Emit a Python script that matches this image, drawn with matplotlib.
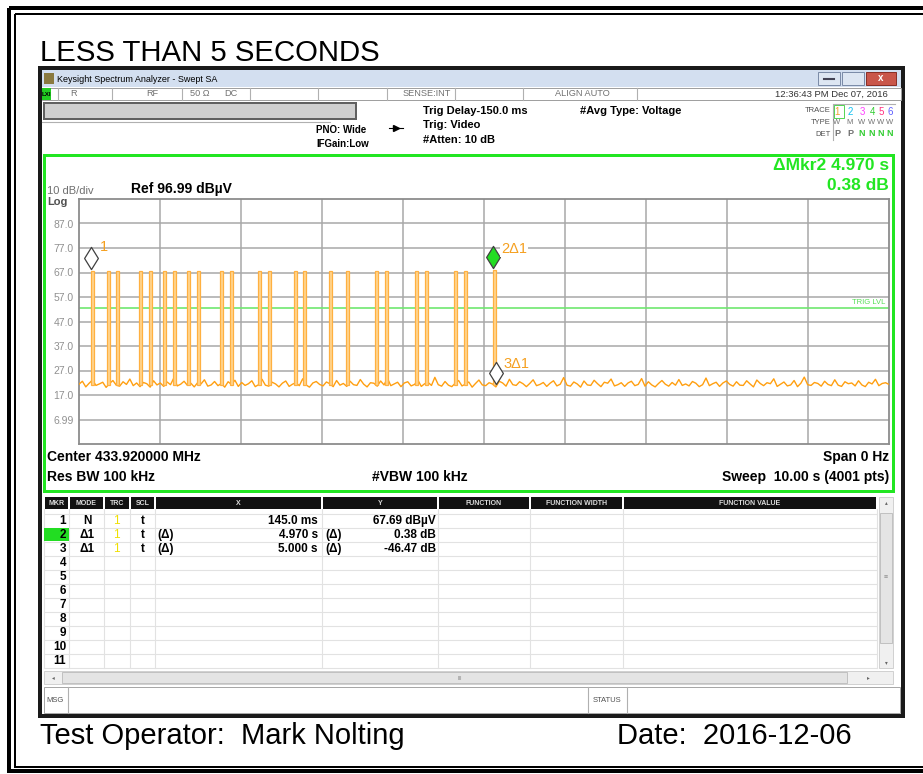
import numpy as np
import matplotlib
matplotlib.use("Agg")
import matplotlib.pyplot as plt
from matplotlib.patches import Rectangle
from matplotlib.path import Path

plt.rcParams['font.family'] = ['Liberation Sans', 'DejaVu Sans']

# ---- data ----
ref_level = 96.99
db_per_div = 10
sweep_time = 10.0
trig_level = 52.3

# pulse start times (s) and tops (dBuV)
pulse_t = [0.145, 0.346, 0.457, 0.741, 0.864, 1.037, 1.160, 1.333, 1.457, 1.741,
           1.864, 2.210, 2.333, 2.654, 2.765, 3.086, 3.296, 3.654, 3.778, 4.148,
           4.272, 4.630, 4.753, 5.115]
pulse_top = [67.69] * 23 + [68.07]
pulse_base = 21.0

# noise floor trace (dBuV), sampled across the sweep
noise = [21.4, 22.6, 20.3, 21.8, 23.1, 20.9, 21.5, 22.2, 20.1, 21.7, 22.9, 21.0,
         20.6, 22.4, 21.3, 23.5, 20.8, 21.9, 20.4, 22.1, 21.6, 20.2, 22.8, 21.1,
         21.9, 20.5, 22.3, 21.2, 24.0, 20.7, 21.4, 22.6, 20.9, 21.8, 20.3, 22.0,
         21.5, 23.2, 20.6, 21.1, 22.5, 20.8, 21.7, 20.2, 22.4, 21.3, 23.0, 20.5,
         22.1, 20.9, 21.6, 22.8, 20.4, 21.2, 23.4, 21.0, 20.6, 22.2, 21.5, 20.3,
         21.8, 22.7, 20.5, 21.4, 22.0, 20.8, 23.6, 21.1, 20.2, 21.9, 22.5, 21.3,
         20.7, 22.3, 21.6, 20.4, 22.9, 21.0, 21.7, 20.5, 22.6, 21.2, 20.9, 23.3,
         21.4, 20.3, 22.0, 21.8, 20.6, 22.7, 21.1, 23.8, 20.8, 21.5, 22.2, 20.4,
         21.9, 22.4, 20.7, 21.3, 23.0, 20.5, 21.6, 22.1, 20.9, 24.2, 21.2, 20.6,
         22.5, 21.0, 20.4, 21.8, 22.9, 20.7, 21.4, 22.3, 20.2, 21.7, 23.1, 21.1,
         20.8, 22.0, 21.5, 20.3, 22.6, 21.9, 20.6, 23.4, 21.2, 20.9, 22.4, 21.6,
         20.4, 21.7, 23.2, 20.8, 21.3, 22.1, 20.5, 21.8, 22.8, 20.7, 21.4, 24.1,
         21.0, 20.6, 22.3, 21.5, 20.2, 22.7, 21.1, 20.9, 23.0, 21.6, 20.4, 22.2,
         21.8, 23.5, 20.7, 21.2, 22.0, 20.5, 21.9, 22.6, 20.8, 21.3, 23.7, 20.6,
         22.4, 21.1, 20.3, 21.7, 22.9, 21.4, 20.6, 22.1, 21.0, 23.3, 20.9, 21.5,
         20.7, 22.5, 21.8, 20.4, 21.2, 23.9, 20.8, 21.6, 22.2, 20.5, 21.9, 22.7,
         21.3, 20.6, 22.4, 21.0, 20.9, 22.8, 21.5, 20.3, 23.1, 21.7, 20.8, 22.0,
         21.6, 23.6, 20.5, 21.4, 22.3, 20.7, 21.1, 22.9, 20.4, 21.8, 24.3, 21.2,
         20.9, 22.1, 21.7, 20.6, 22.6, 21.3, 20.8, 23.2, 21.0, 20.5, 22.4, 21.6,
         21.9, 20.7, 22.8, 21.1, 20.4, 22.2, 21.5, 23.4, 20.8, 21.7, 22.0, 21.3]

# markers: (time s, y of diamond centre, label)
mkr_t = [0.145, 5.115, 5.145]
mkr_y = [72.9, 73.2, 26.0]
mkr_label = ["1", "2\u03941", "3\u03941"]

# marker table
tbl_cols = ["MKR", "MODE", "TRC", "SCL", "X", "Y", "FUNCTION", "FUNCTION WIDTH", "FUNCTION VALUE"]
tbl_mode = ["N", "\u03941", "\u03941"]
tbl_x = ["145.0 ms", "4.970 s", "5.000 s"]
tbl_y = ["67.69 dB\u00b5V", "0.38 dB", "-46.47 dB"]

W, H = 923, 774
fig = plt.figure(figsize=(W / 100, H / 100), dpi=100)
fig.patch.set_facecolor("white")

# overlay axes in pixel coords
bg = fig.add_axes([0, 0, 1, 1])
bg.set_xlim(0, W)
bg.set_ylim(H, 0)
bg.axis("off")

PT = 0.72  # px -> pt


def rect(x0, y0, x1, y1, fc="none", ec="none", lw=1, z=1):
    bg.add_patch(Rectangle((x0, y0), x1 - x0, y1 - y0, facecolor=fc, edgecolor=ec,
                           linewidth=lw * PT, zorder=z))


def txt(x, y, s, size=8, color="black", weight="normal", ha="left", va="center", z=5, **kw):
    bg.text(x, y, s, fontsize=size, color=color, fontweight=weight, ha=ha, va=va, zorder=z, **kw)


# page border
rect(9, 8, 940, 771, ec="black", lw=4)
rect(15, 14, 940, 767, ec="black", lw=2)

txt(40, 61, "LESS THAN 5 SECONDS", size=21.2, va="baseline")
txt(40, 744, "Test Operator:  Mark Nolting", size=21, va="baseline")
txt(617, 744, "Date:  2016-12-06", size=21, va="baseline")

# window frame
rect(40, 68, 903, 716, fc="white", ec="#1a1a1a", lw=4, z=1)
# title bar
rect(42, 70, 901, 87, fc="#d3dff0", z=2)
rect(44, 73, 54, 84, fc="#8a7a40", z=3)
txt(57, 79, "Keysight Spectrum Analyzer - Swept SA", size=6.5)
rect(818, 72, 840, 85, fc="#dde6f2", ec="#7c8ca8", lw=1, z=3)
rect(842, 72, 864, 85, fc="#dde6f2", ec="#7c8ca8", lw=1, z=3)
rect(866, 72, 896, 85, fc="#c9564a", ec="#8a3028", lw=1, z=3)
bg.plot([824, 834], [79, 79], color="#445", lw=1.5, zorder=4)
txt(881, 78, "x", size=7, color="white", weight="bold", ha="center")

# status row
rect(42, 88, 901, 100, fc="white", ec="#a0a0a0", lw=1, z=2)
rect(42, 88, 51, 100, fc="#22cc22", z=3)
txt(46, 94, "LXI", size=4.5, weight="bold", ha="center")
for xd in [58, 112, 182, 250, 318, 387, 455, 523, 637]:
    bg.plot([xd, xd], [88, 100], color="#b0b0b0", lw=0.8, zorder=3)
for x, s in [(70, "R"), (146, "RF"), (190, "50 \u03a9"), (224, "DC"), (403, "SENSE:INT"),
             (555, "ALIGN AUTO")]:
    txt(x, 94, s, size=6.6, color="#707070")
txt(888, 94, "12:36:43 PM Dec 07, 2016", size=6.8, color="#333", ha="right")

# info area
rect(44, 103, 356, 119, fc="#cfcfcf", ec="#606060", lw=2, z=3)
bg.plot([42, 330], [122, 122], color="#b0b0b0", lw=0.8, zorder=3)
txt(316, 130, "PNO: Wide", size=7, weight="bold")
txt(316, 144, "IFGain:Low", size=7, weight="bold")
bg.plot([389, 403], [128, 128], color="black", lw=0.8, zorder=3)
bg.plot([396], [128], marker=">", color="black", ms=4, zorder=4)
txt(423, 111, "Trig Delay-150.0 ms", size=8, weight="bold")
txt(423, 125, "Trig: Video", size=8, weight="bold")
txt(423, 140, "#Atten: 10 dB", size=8, weight="bold")
txt(580, 111, "#Avg Type: Voltage", size=8, weight="bold")
txt(831, 111, "TRACE", size=5.5, color="#505050", ha="right")
txt(831, 123, "TYPE", size=5.5, color="#505050", ha="right")
txt(831, 134, "DET", size=5.5, color="#505050", ha="right")
bg.plot([833, 833], [105, 140], color="#b0b0b0", lw=0.8, zorder=3)
bg.plot([833, 895], [104, 104], color="#b0b0b0", lw=0.8, zorder=3)
trace_cols = ["#f0a030", "#10c0f0", "#ff40ff", "#30cc30", "#ff3080", "#6060ff"]
trace_x = [837, 850, 862, 872, 881, 890]
det = ["P", "P", "N", "N", "N", "N"]
for i in range(6):
    txt(trace_x[i], 112, str(i + 1), size=7, color=trace_cols[i], ha="center")
    txt(trace_x[i], 123, "W" if i != 1 else "M", size=5.5, color="#707070", ha="center")
    txt(trace_x[i], 134, det[i], size=6.5, weight="bold",
        color="#707070" if det[i] == "P" else "#30cc30", ha="center")
rect(834, 105, 844, 118, ec="#30cc30", lw=0.8, z=4)

# green display panel
rect(44, 155, 893, 491, fc="white", ec="#22e622", lw=3, z=2)
txt(47, 191, "10 dB/div", size=8, color="#707070")
txt(47, 202, "Log", size=8, color="#505050", weight="bold")
txt(131, 189, "Ref 96.99 dB\u00b5V", size=10, weight="bold")
txt(889, 165, "\u0394Mkr2 4.970 s", size=12.5, weight="bold", color="#22e622", ha="right")
txt(889, 185, "0.38 dB", size=12.5, weight="bold", color="#22e622", ha="right")
txt(47, 457, "Center 433.920000 MHz", size=10, weight="bold")
txt(47, 477, "Res BW 100 kHz", size=10, weight="bold")
txt(372, 477, "#VBW 100 kHz", size=10, weight="bold")
txt(889, 457, "Span 0 Hz", size=10, weight="bold", ha="right")
txt(889, 477, "Sweep  10.00 s (4001 pts)", size=10, weight="bold", ha="right")

# ---- trace plot ----
ax = fig.add_axes([79 / W, 1 - 444 / H, 810 / W, 245 / H])
ax.set_zorder(3)
ymin = ref_level - 10 * db_per_div
ax.set_xlim(0, sweep_time)
ax.set_ylim(ymin, ref_level)
yt = [ymin + db_per_div * k for k in range(1, 10)]
ax.set_yticks(yt)
ax.set_yticklabels(["6.99"] + ["%.1f" % v for v in yt[1:]])
ax.set_xticks(np.arange(1, 10))
ax.set_xticklabels([])
ax.tick_params(length=0, labelsize=7.5, labelcolor="#909090", pad=4)
ax.grid(True, color="#a8a8a8", lw=1.1)
for sp in ax.spines.values():
    sp.set_color("#8c8c8c")
    sp.set_linewidth(1.3)

tn = np.linspace(0, sweep_time, len(noise))
ax.plot(tn, noise, color="#ff9f10", lw=1.0, zorder=3)
pulse_h = [top - pulse_base for top in pulse_top]
ax.bar(pulse_t, pulse_h, bottom=pulse_base, width=0.035, align="edge",
       color="#ffd590", edgecolor="#ffb040", linewidth=0.9, zorder=4)

ax.axhline(trig_level, color="#70e870", lw=1.2, zorder=2)
ax.text(9.96, trig_level + 1.0, "TRIG LVL", fontsize=5.5, color="#55dd55",
        ha="right", va="bottom")

diamond = Path([(0, 1), (0.62, 0), (0, -1), (-0.62, 0), (0, 1)],
               [Path.MOVETO, Path.LINETO, Path.LINETO, Path.LINETO, Path.CLOSEPOLY])
mkr_fc = ["white", "#22dd22", "white"]
for i in range(3):
    ax.plot(mkr_t[i], mkr_y[i], marker=diamond, ms=16, mfc=mkr_fc[i], mec="#404040",
            mew=0.9, zorder=6)
ax.text(0.26, 77.4, mkr_label[0], fontsize=10.5, color="#f5a020", va="center", zorder=6)
ax.text(5.21, 76.6, mkr_label[1], fontsize=10.5, color="#f5a020", va="center", zorder=6,
        bbox=dict(fc="white", ec="none", pad=0.5))
ax.text(5.235, 29.6, mkr_label[2], fontsize=10.5, color="#f5a020", va="center", zorder=6)

# ---- marker table ----
col_edges = [44, 69, 104, 130, 155, 322, 438, 530, 623, 877]
for i, name in enumerate(tbl_cols):
    rect(col_edges[i] + 1, 497, col_edges[i + 1] - 1, 509, fc="#111111", z=3)
    txt((col_edges[i] + col_edges[i + 1]) / 2, 503.5, name, size=5, color="#dddddd",
        weight="bold", ha="center")
for k in range(12):
    yl = 514 + 14 * k
    bg.plot([44, 877], [yl, yl], color="#e2e2e2", lw=0.8, zorder=2)
for xe in col_edges:
    bg.plot([xe, xe], [509, 668], color="#e2e2e2", lw=0.8, zorder=2)
rect(44, 528, 69, 541, fc="#22dd22", z=3)
for r in range(11):
    yc = 521 + 14 * r
    txt(66, yc, str(r + 1), size=8.5, weight="bold", ha="right")
for r in range(3):
    yc = 521 + 14 * r
    txt(87, yc, tbl_mode[r], size=8.5, weight="bold", ha="center")
    txt(116, yc, "1", size=8.5, color="#f0e000", ha="center")
    txt(143, yc, "t", size=8.5, weight="bold", ha="center")
    txt(318, yc, tbl_x[r], size=8.5, weight="bold", ha="right")
    txt(436, yc, tbl_y[r], size=8.5, weight="bold", ha="right")
    if r > 0:
        txt(157, yc, "(\u0394)", size=8.5, weight="bold")
        txt(325, yc, "(\u0394)", size=8.5, weight="bold")

# scrollbars
rect(879, 497, 893, 668, fc="#f0f0f0", ec="#c8c8c8", lw=0.8, z=2)
rect(880, 513, 892, 643, fc="#e4e4e4", ec="#b8b8b8", lw=0.8, z=3)
txt(886, 503, "\u25b4", size=4, color="#666", ha="center")
txt(886, 663, "\u25be", size=4, color="#666", ha="center")
txt(886, 577, "\u2261", size=5, color="#888", ha="center")
rect(44, 671, 893, 684, fc="#f0f0f0", ec="#c8c8c8", lw=0.8, z=2)
rect(62, 672, 847, 683, fc="#e4e4e4", ec="#b8b8b8", lw=0.8, z=3)
txt(53, 678, "\u25c2", size=4, color="#666", ha="center")
txt(868, 678, "\u25b8", size=4, color="#666", ha="center")
txt(460, 678, "III", size=4, color="#888", ha="center")

# message bar
rect(44, 687, 900, 713, fc="white", ec="#a8a8a8", lw=1, z=2)
bg.plot([68, 68], [687, 713], color="#b0b0b0", lw=0.8, zorder=3)
bg.plot([588, 588], [687, 713], color="#b0b0b0", lw=0.8, zorder=3)
bg.plot([627, 627], [687, 713], color="#b0b0b0", lw=0.8, zorder=3)
txt(46, 700, "MSG", size=5.5, color="#505050")
txt(607, 700, "STATUS", size=5.5, color="#505050", ha="center")

fig.savefig("out.png", dpi=100)
